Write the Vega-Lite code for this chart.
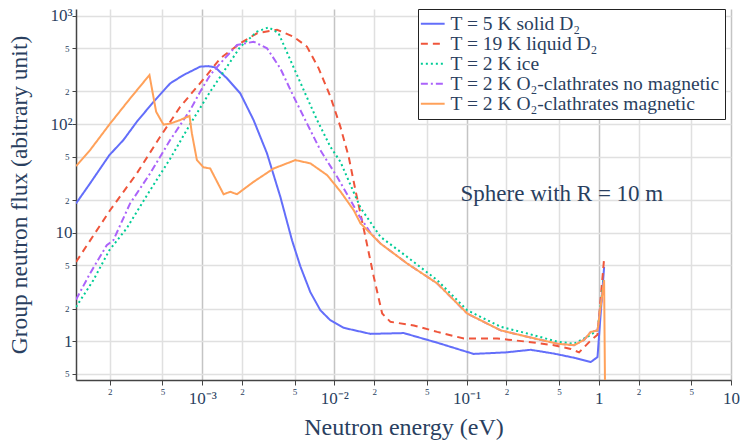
{
  "$schema": "https://vega.github.io/schema/vega-lite/v6.json",
  "width": 655,
  "height": 371,
  "autosize": {"type": "none"},
  "padding": {"left": 76, "top": 9, "right": 9, "bottom": 62},
  "background": "white",
  "config": {
    "view": {"stroke": null},
    "font": "Liberation Serif"
  },
  "encoding": {
    "x": {
      "field": "E", "type": "quantitative",
      "scale": {"type": "log", "domain": [0.000111, 10], "nice": false},
      "axis": {
        "title": "Neutron energy (eV)",
        "titleFont": "Liberation Serif", "titleFontSize": 24, "titleFontWeight": "normal", "titleColor": "#2a3f5f", "titlePadding": 9,
        "values": [0.0002, 0.0005, 0.001, 0.002, 0.005, 0.01, 0.02, 0.05, 0.1, 0.2, 0.5, 1, 2, 5, 10],
        "labelExpr": "datum.value == 0.001 ? '10⁻³' : datum.value == 0.01 ? '10⁻²' : datum.value == 0.1 ? '10⁻¹' : datum.value == 1 ? '1' : datum.value == 10 ? '10' : substring(format(datum.value, '.0e'), 0, 1)",
        "labelFont": "Liberation Serif", "labelColor": "#2a3f5f",
        "labelFontSize": {"condition": {"test": "indexof([0.001, 0.01, 0.1, 1, 10], datum.value) >= 0", "value": 17}, "value": 9},
        "labelPadding": {"condition": {"test": "indexof([0.001, 0.01, 0.1, 1, 10], datum.value) >= 0", "value": 5}, "value": 2},
        "labelFlush": false, "labelOverlap": false, "labelBound": false,
        "grid": true,
        "gridColor": {"condition": {"test": "indexof([0.001, 0.01, 0.1, 1, 10], datum.value) >= 0", "value": "#c4c4c4"}, "value": "#e0e0e0"},
        "gridWidth": 1.5,
        "domainColor": "#444", "domainWidth": 1.5, "tickColor": "#444", "tickSize": 5
      }
    },
    "y": {
      "field": "F", "type": "quantitative",
      "scale": {"type": "log", "domain": [0.44, 1148], "nice": false},
      "axis": {
        "title": "Group neutron flux (abitrary unit)",
        "titleFont": "Liberation Serif", "titleFontSize": 23.5, "titleFontWeight": "normal", "titleColor": "#2a3f5f", "titlePadding": 18,
        "values": [0.5, 1, 2, 5, 10, 20, 50, 100, 200, 500, 1000],
        "labelExpr": "datum.value == 1000 ? '10³' : datum.value == 100 ? '10²' : datum.value == 10 ? '10' : datum.value == 1 ? '1' : substring(format(datum.value, '.0e'), 0, 1)",
        "labelFont": "Liberation Serif", "labelColor": "#2a3f5f",
        "labelFontSize": {"condition": {"test": "indexof([1, 10, 100, 1000], datum.value) >= 0", "value": 17}, "value": 9},
        "labelPadding": {"condition": {"test": "indexof([1, 10, 100, 1000], datum.value) >= 0", "value": 0}, "value": 3},
        "labelOverlap": false, "labelBound": false, "labelFlush": false,
        "grid": true, "gridColor": "#e0e0e0", "gridWidth": 1.5,
        "domainColor": "#444", "domainWidth": 1.5, "tickColor": "#444", "tickSize": 4
      }
    }
  },
  "layer": [
    {
      "data": {"values": [
        {"s": "T = 5 K solid D₂", "E": 0.0001111, "F": 18.6},
        {"s": "T = 5 K solid D₂", "E": 0.0001417, "F": 28.4},
        {"s": "T = 5 K solid D₂", "E": 0.0001985, "F": 51.8},
        {"s": "T = 5 K solid D₂", "E": 0.0002534, "F": 71.3},
        {"s": "T = 5 K solid D₂", "E": 0.00032, "F": 105},
        {"s": "T = 5 K solid D₂", "E": 0.0004276, "F": 160},
        {"s": "T = 5 K solid D₂", "E": 0.000572, "F": 237},
        {"s": "T = 5 K solid D₂", "E": 0.0007216, "F": 283},
        {"s": "T = 5 K solid D₂", "E": 0.0009657, "F": 338},
        {"s": "T = 5 K solid D₂", "E": 0.00111, "F": 342},
        {"s": "T = 5 K solid D₂", "E": 0.001254, "F": 333},
        {"s": "T = 5 K solid D₂", "E": 0.001539, "F": 264},
        {"s": "T = 5 K solid D₂", "E": 0.001941, "F": 192},
        {"s": "T = 5 K solid D₂", "E": 0.002446, "F": 109},
        {"s": "T = 5 K solid D₂", "E": 0.003092, "F": 53.7},
        {"s": "T = 5 K solid D₂", "E": 0.003899, "F": 21.4},
        {"s": "T = 5 K solid D₂", "E": 0.004781, "F": 8.5},
        {"s": "T = 5 K solid D₂", "E": 0.005525, "F": 4.9},
        {"s": "T = 5 K solid D₂", "E": 0.006579, "F": 2.83},
        {"s": "T = 5 K solid D₂", "E": 0.007831, "F": 1.93},
        {"s": "T = 5 K solid D₂", "E": 0.009326, "F": 1.56},
        {"s": "T = 5 K solid D₂", "E": 0.01176, "F": 1.33},
        {"s": "T = 5 K solid D₂", "E": 0.01874, "F": 1.17},
        {"s": "T = 5 K solid D₂", "E": 0.0335, "F": 1.19},
        {"s": "T = 5 K solid D₂", "E": 0.05998, "F": 0.97},
        {"s": "T = 5 K solid D₂", "E": 0.113, "F": 0.765},
        {"s": "T = 5 K solid D₂", "E": 0.1974, "F": 0.79},
        {"s": "T = 5 K solid D₂", "E": 0.3053, "F": 0.835},
        {"s": "T = 5 K solid D₂", "E": 0.4585, "F": 0.77},
        {"s": "T = 5 K solid D₂", "E": 0.6694, "F": 0.7},
        {"s": "T = 5 K solid D₂", "E": 0.87, "F": 0.644},
        {"s": "T = 5 K solid D₂", "E": 0.9777, "F": 0.716},
        {"s": "T = 5 K solid D₂", "E": 1.097, "F": 4.84},

        {"s": "T = 19 K liquid D₂", "E": 0.0001111, "F": 5.38},
        {"s": "T = 19 K liquid D₂", "E": 0.0002009, "F": 16.1},
        {"s": "T = 19 K liquid D₂", "E": 0.00032, "F": 35.1},
        {"s": "T = 19 K liquid D₂", "E": 0.0004806, "F": 76.4},
        {"s": "T = 19 K liquid D₂", "E": 0.000681, "F": 144},
        {"s": "T = 19 K liquid D₂", "E": 0.001085, "F": 283},
        {"s": "T = 19 K liquid D₂", "E": 0.001369, "F": 403},
        {"s": "T = 19 K liquid D₂", "E": 0.001941, "F": 555},
        {"s": "T = 19 K liquid D₂", "E": 0.002597, "F": 686},
        {"s": "T = 19 K liquid D₂", "E": 0.00368, "F": 740},
        {"s": "T = 19 K liquid D₂", "E": 0.004916, "F": 638},
        {"s": "T = 19 K liquid D₂", "E": 0.006211, "F": 515},
        {"s": "T = 19 K liquid D₂", "E": 0.007603, "F": 326},
        {"s": "T = 19 K liquid D₂", "E": 0.009326, "F": 179},
        {"s": "T = 19 K liquid D₂", "E": 0.0111, "F": 94.4},
        {"s": "T = 19 K liquid D₂", "E": 0.01283, "F": 50},
        {"s": "T = 19 K liquid D₂", "E": 0.01442, "F": 24.7},
        {"s": "T = 19 K liquid D₂", "E": 0.01717, "F": 9.14},
        {"s": "T = 19 K liquid D₂", "E": 0.01985, "F": 3.92},
        {"s": "T = 19 K liquid D₂", "E": 0.02298, "F": 1.8},
        {"s": "T = 19 K liquid D₂", "E": 0.02656, "F": 1.51},
        {"s": "T = 19 K liquid D₂", "E": 0.03989, "F": 1.4},
        {"s": "T = 19 K liquid D₂", "E": 0.05998, "F": 1.22},
        {"s": "T = 19 K liquid D₂", "E": 0.09539, "F": 1.06},
        {"s": "T = 19 K liquid D₂", "E": 0.1709, "F": 1.06},
        {"s": "T = 19 K liquid D₂", "E": 0.2883, "F": 0.99},
        {"s": "T = 19 K liquid D₂", "E": 0.4585, "F": 0.92},
        {"s": "T = 19 K liquid D₂", "E": 0.6136, "F": 0.85},
        {"s": "T = 19 K liquid D₂", "E": 0.709, "F": 0.79},
        {"s": "T = 19 K liquid D₂", "E": 0.87, "F": 1.02},
        {"s": "T = 19 K liquid D₂", "E": 0.9777, "F": 1.15},
        {"s": "T = 19 K liquid D₂", "E": 1.097, "F": 5.8},

        {"s": "T = 2 K ice", "E": 0.0001111, "F": 2.07},
        {"s": "T = 2 K ice", "E": 0.0001501, "F": 3.65},
        {"s": "T = 2 K ice", "E": 0.0001985, "F": 6.9},
        {"s": "T = 2 K ice", "E": 0.0002689, "F": 11},
        {"s": "T = 2 K ice", "E": 0.0003812, "F": 22},
        {"s": "T = 2 K ice", "E": 0.000572, "F": 48},
        {"s": "T = 2 K ice", "E": 0.0008112, "F": 100},
        {"s": "T = 2 K ice", "E": 0.00115, "F": 199},
        {"s": "T = 2 K ice", "E": 0.001369, "F": 273},
        {"s": "T = 2 K ice", "E": 0.001941, "F": 515},
        {"s": "T = 2 K ice", "E": 0.002597, "F": 710},
        {"s": "T = 2 K ice", "E": 0.00318, "F": 778},
        {"s": "T = 2 K ice", "E": 0.003784, "F": 686},
        {"s": "T = 2 K ice", "E": 0.004642, "F": 389},
        {"s": "T = 2 K ice", "E": 0.005853, "F": 206},
        {"s": "T = 2 K ice", "E": 0.007393, "F": 109},
        {"s": "T = 2 K ice", "E": 0.009326, "F": 61.8},
        {"s": "T = 2 K ice", "E": 0.0111, "F": 45},
        {"s": "T = 2 K ice", "E": 0.01283, "F": 30},
        {"s": "T = 2 K ice", "E": 0.01574, "F": 17},
        {"s": "T = 2 K ice", "E": 0.02231, "F": 9.15},
        {"s": "T = 2 K ice", "E": 0.03555, "F": 5.98},
        {"s": "T = 2 K ice", "E": 0.05998, "F": 3.65},
        {"s": "T = 2 K ice", "E": 0.1012, "F": 1.93},
        {"s": "T = 2 K ice", "E": 0.181, "F": 1.36},
        {"s": "T = 2 K ice", "E": 0.2883, "F": 1.18},
        {"s": "T = 2 K ice", "E": 0.4866, "F": 0.99},
        {"s": "T = 2 K ice", "E": 0.6499, "F": 0.95},
        {"s": "T = 2 K ice", "E": 0.821, "F": 1.1},
        {"s": "T = 2 K ice", "E": 0.9777, "F": 1.26},
        {"s": "T = 2 K ice", "E": 1.097, "F": 3.9},

        {"s": "T = 2 K O₂-clathrates no magnetic", "E": 0.0001111, "F": 2.42},
        {"s": "T = 2 K O₂-clathrates no magnetic", "E": 0.0001417, "F": 4.21},
        {"s": "T = 2 K O₂-clathrates no magnetic", "E": 0.0001897, "F": 7.67},
        {"s": "T = 2 K O₂-clathrates no magnetic", "E": 0.0002128, "F": 8.53},
        {"s": "T = 2 K O₂-clathrates no magnetic", "E": 0.0002848, "F": 18.6},
        {"s": "T = 2 K O₂-clathrates no magnetic", "E": 0.0004037, "F": 35.1},
        {"s": "T = 2 K O₂-clathrates no magnetic", "E": 0.000572, "F": 71.3},
        {"s": "T = 2 K O₂-clathrates no magnetic", "E": 0.0008112, "F": 134.6},
        {"s": "T = 2 K O₂-clathrates no magnetic", "E": 0.0009657, "F": 199},
        {"s": "T = 2 K O₂-clathrates no magnetic", "E": 0.00115, "F": 283},
        {"s": "T = 2 K O₂-clathrates no magnetic", "E": 0.001369, "F": 362},
        {"s": "T = 2 K O₂-clathrates no magnetic", "E": 0.001832, "F": 535},
        {"s": "T = 2 K O₂-clathrates no magnetic", "E": 0.002446, "F": 574},
        {"s": "T = 2 K O₂-clathrates no magnetic", "E": 0.003092, "F": 499},
        {"s": "T = 2 K O₂-clathrates no magnetic", "E": 0.003899, "F": 326},
        {"s": "T = 2 K O₂-clathrates no magnetic", "E": 0.004916, "F": 179},
        {"s": "T = 2 K O₂-clathrates no magnetic", "E": 0.006211, "F": 101},
        {"s": "T = 2 K O₂-clathrates no magnetic", "E": 0.007831, "F": 57.5},
        {"s": "T = 2 K O₂-clathrates no magnetic", "E": 0.01048, "F": 32.7},
        {"s": "T = 2 K O₂-clathrates no magnetic", "E": 0.01322, "F": 20},
        {"s": "T = 2 K O₂-clathrates no magnetic", "E": 0.01528, "F": 14.5},
        {"s": "T = 2 K O₂-clathrates no magnetic", "E": 0.01874, "F": 10},
        {"s": "T = 2 K O₂-clathrates no magnetic", "E": 0.02231, "F": 7.94},
        {"s": "T = 2 K O₂-clathrates no magnetic", "E": 0.03555, "F": 5.2},
        {"s": "T = 2 K O₂-clathrates no magnetic", "E": 0.05998, "F": 3.41},
        {"s": "T = 2 K O₂-clathrates no magnetic", "E": 0.1012, "F": 1.8},
        {"s": "T = 2 K O₂-clathrates no magnetic", "E": 0.181, "F": 1.26},
        {"s": "T = 2 K O₂-clathrates no magnetic", "E": 0.2883, "F": 1.1},
        {"s": "T = 2 K O₂-clathrates no magnetic", "E": 0.4866, "F": 0.95},
        {"s": "T = 2 K O₂-clathrates no magnetic", "E": 0.6499, "F": 0.92},
        {"s": "T = 2 K O₂-clathrates no magnetic", "E": 0.7738, "F": 1.03},
        {"s": "T = 2 K O₂-clathrates no magnetic", "E": 0.87, "F": 1.22},
        {"s": "T = 2 K O₂-clathrates no magnetic", "E": 0.9777, "F": 1.26},
        {"s": "T = 2 K O₂-clathrates no magnetic", "E": 1.097, "F": 3.65},

        {"s": "T = 2 K O₂-clathrates magnetic", "E": 0.0001111, "F": 41},
        {"s": "T = 2 K O₂-clathrates magnetic", "E": 0.0001417, "F": 57.5},
        {"s": "T = 2 K O₂-clathrates magnetic", "E": 0.0002009, "F": 101},
        {"s": "T = 2 K O₂-clathrates magnetic", "E": 0.0002848, "F": 172},
        {"s": "T = 2 K O₂-clathrates magnetic", "E": 0.0003989, "F": 283},
        {"s": "T = 2 K O₂-clathrates magnetic", "E": 0.0004482, "F": 130},
        {"s": "T = 2 K O₂-clathrates magnetic", "E": 0.0005091, "F": 99},
        {"s": "T = 2 K O₂-clathrates magnetic", "E": 0.000572, "F": 101},
        {"s": "T = 2 K O₂-clathrates magnetic", "E": 0.000681, "F": 109},
        {"s": "T = 2 K O₂-clathrates magnetic", "E": 0.0008014, "F": 119},
        {"s": "T = 2 K O₂-clathrates magnetic", "E": 0.0008356, "F": 82},
        {"s": "T = 2 K O₂-clathrates magnetic", "E": 0.0009118, "F": 46.6},
        {"s": "T = 2 K O₂-clathrates magnetic", "E": 0.001023, "F": 40},
        {"s": "T = 2 K O₂-clathrates magnetic", "E": 0.00115, "F": 39},
        {"s": "T = 2 K O₂-clathrates magnetic", "E": 0.00145, "F": 22.6},
        {"s": "T = 2 K O₂-clathrates magnetic", "E": 0.00163, "F": 23.8},
        {"s": "T = 2 K O₂-clathrates magnetic", "E": 0.001832, "F": 22.6},
        {"s": "T = 2 K O₂-clathrates magnetic", "E": 0.002446, "F": 29.4},
        {"s": "T = 2 K O₂-clathrates magnetic", "E": 0.003469, "F": 39},
        {"s": "T = 2 K O₂-clathrates magnetic", "E": 0.005063, "F": 46.6},
        {"s": "T = 2 K O₂-clathrates magnetic", "E": 0.006579, "F": 43.5},
        {"s": "T = 2 K O₂-clathrates magnetic", "E": 0.008806, "F": 33.9},
        {"s": "T = 2 K O₂-clathrates magnetic", "E": 0.0111, "F": 24},
        {"s": "T = 2 K O₂-clathrates magnetic", "E": 0.014, "F": 16.1},
        {"s": "T = 2 K O₂-clathrates magnetic", "E": 0.01574, "F": 12.2},
        {"s": "T = 2 K O₂-clathrates magnetic", "E": 0.02231, "F": 7.94},
        {"s": "T = 2 K O₂-clathrates magnetic", "E": 0.03555, "F": 5.2},
        {"s": "T = 2 K O₂-clathrates magnetic", "E": 0.05998, "F": 3.41},
        {"s": "T = 2 K O₂-clathrates magnetic", "E": 0.1012, "F": 1.8},
        {"s": "T = 2 K O₂-clathrates magnetic", "E": 0.181, "F": 1.26},
        {"s": "T = 2 K O₂-clathrates magnetic", "E": 0.2883, "F": 1.1},
        {"s": "T = 2 K O₂-clathrates magnetic", "E": 0.4866, "F": 0.95},
        {"s": "T = 2 K O₂-clathrates magnetic", "E": 0.6499, "F": 0.92},
        {"s": "T = 2 K O₂-clathrates magnetic", "E": 0.7738, "F": 1.03},
        {"s": "T = 2 K O₂-clathrates magnetic", "E": 0.87, "F": 1.22},
        {"s": "T = 2 K O₂-clathrates magnetic", "E": 0.9777, "F": 1.26},
        {"s": "T = 2 K O₂-clathrates magnetic", "E": 1.097, "F": 3.65},
        {"s": "T = 2 K O₂-clathrates magnetic", "E": 1.116, "F": 0.3}
      ]},
      "mark": {"type": "line", "strokeWidth": 2, "clip": true},
      "encoding": {
        "color": {
          "field": "s", "type": "nominal",
          "scale": {
            "domain": ["T = 5 K solid D₂", "T = 19 K liquid D₂", "T = 2 K ice", "T = 2 K O₂-clathrates no magnetic", "T = 2 K O₂-clathrates magnetic"],
            "range": ["#636EFA", "#EF553B", "#00CC96", "#AB63FA", "#FFA15A"]
          },
          "legend": {
            "title": null, "orient": "none", "legendX": 342, "legendY": 0,
            "strokeColor": "#222", "fillColor": "white", "padding": 5,
            "symbolType": "M-1.4,0L1.4,0", "symbolSize": 289, "symbolStrokeWidth": 2,
            "labelFont": "Liberation Serif", "labelFontSize": 19.5, "labelColor": "#2a3f5f",
            "labelLimit": 400, "rowPadding": -1.5, "labelOffset": 8
          }
        },
        "strokeDash": {
          "field": "s", "type": "nominal",
          "scale": {
            "domain": ["T = 5 K solid D₂", "T = 19 K liquid D₂", "T = 2 K ice", "T = 2 K O₂-clathrates no magnetic", "T = 2 K O₂-clathrates magnetic"],
            "range": [[1, 0], [7, 5], [2, 3], [7, 3, 2, 3], [1, 0]]
          },
          "legend": {
            "title": null, "orient": "none", "legendX": 342, "legendY": 0,
            "strokeColor": "#222", "fillColor": "white", "padding": 5,
            "symbolType": "M-1.4,0L1.4,0", "symbolSize": 289, "symbolStrokeWidth": 2,
            "labelFont": "Liberation Serif", "labelFontSize": 19.5, "labelColor": "#2a3f5f",
            "labelLimit": 400, "rowPadding": -1.5, "labelOffset": 8
          }
        }
      }
    },
    {
      "data": {"values": [{"E": 0.09, "F": 19.5, "label": "Sphere with R = 10 m"}]},
      "mark": {"type": "text", "align": "left", "baseline": "alphabetic", "font": "Liberation Serif", "fontSize": 23, "color": "#2a3f5f"},
      "encoding": {"text": {"field": "label", "type": "nominal"}}
    }
  ]
}
